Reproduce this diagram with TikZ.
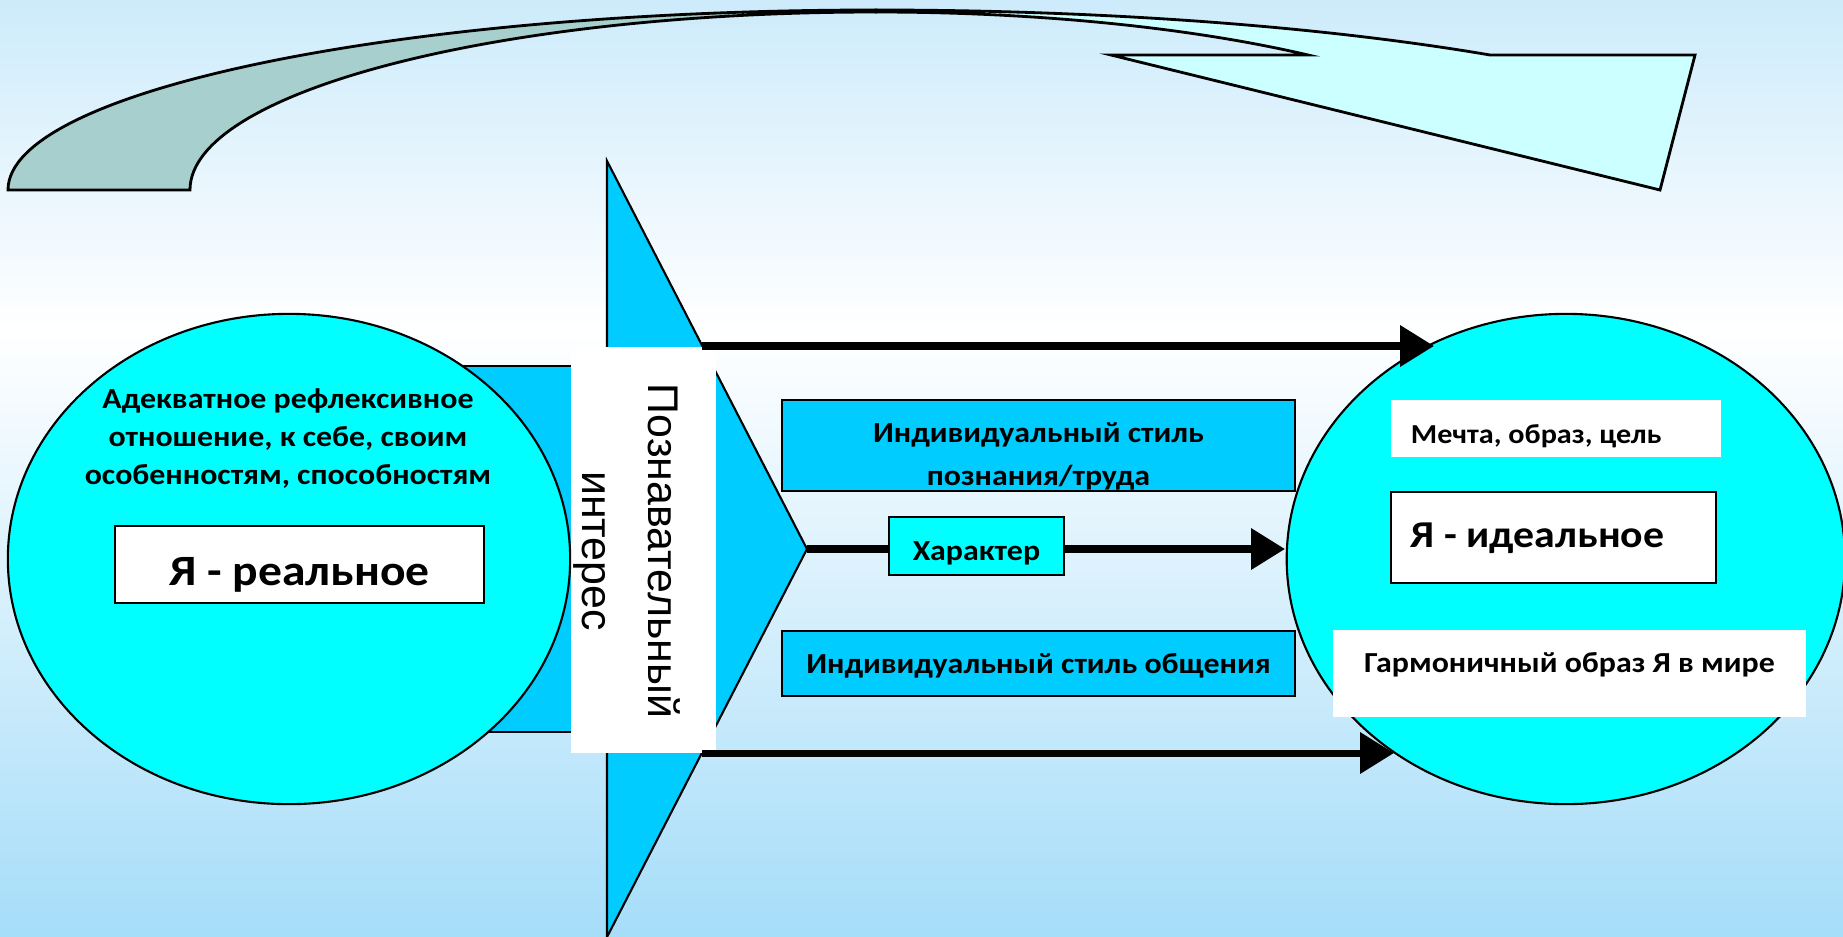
\documentclass[tikz,border=0pt]{standalone}
\usepackage{fontspec}
\setmainfont{Carlito}
\newfontfamily\calfont[FakeStretch=1.1]{Carlito}
\newfontfamily\arialfont{Liberation Sans}
\usetikzlibrary{positioning,shapes.geometric,arrows.meta}
\definecolor{bgtop}{HTML}{CDEBFB}
\definecolor{bgbottom}{HTML}{A6DDF9}
\definecolor{skyblue}{HTML}{00CCFF}
\definecolor{aqua}{HTML}{00FFFF}
\definecolor{greyteal}{HTML}{A6CFCE}
\definecolor{paleaqua}{HTML}{CCFFFF}

\begin{document}
\begin{tikzpicture}[x=0.01cm,y=-0.01cm,
		selfnode/.style={ellipse,draw=black,fill=aqua,line width=0.6pt,inner sep=0pt},
		bluebox/.style={rectangle,draw=black,fill=skyblue,line width=0.6pt,inner sep=0pt},
		whitebox/.style={rectangle,fill=white,inner sep=0pt},
		boldtext/.style={font=\calfont\bfseries\fontsize{8.25}{10.8}\selectfont},
		bigtext/.style={font=\calfont\bfseries\fontsize{12.3}{14}\selectfont},
		thickarrow/.style={line width=2pt,-{Triangle[length=3.4mm,width=4mm]}}]
		\useasboundingbox (0,0) rectangle (1843,936);
		\shade[top color=bgtop,bottom color=white] (0,0) rectangle (1843,330);
		\shade[top color=white,bottom color=bgbottom] (0,330) rectangle (1843,936);

		\filldraw[fill=greyteal,line width=0.8pt] (8,190) .. controls (8,91) and (397,10) .. (876,10) -- (876,12) .. controls (497,12) and (190,92) .. (190,190) -- cycle;
		\filldraw[fill=paleaqua,line width=0.8pt] (876,10) .. controls (1102,10) and (1320,26) .. (1490,55) -- (1695,55) -- (1660,190) -- (1111,55) -- (1308,55) .. controls (1188,27) and (1034,12) .. (876,12) -- cycle;

		\coordinate (tip) at (807,549);
		\filldraw[fill=skyblue,line width=0.6pt] (607,161) -- (tip) -- (607,937) -- cycle;
		\coordinate (a1) at (702,346);
		\coordinate (b1) at (1434,346);
		\coordinate (a3) at (702,753);
		\coordinate (b3) at (1394,753);
		\coordinate (b2) at (1285,549);

		\node[bluebox,minimum width=10.8mm,minimum height=36.6mm]											(1)		at (518,549) {};
		\node[whitebox,minimum width=14.5mm,minimum height=40.6mm]											(2)		at (643.5,550) {};
		\node[rotate=-90,align=center,font=\arialfont\fontsize{12.2}{19}\selectfont]							(3)		at (627,551) {Познавательный\\интерес};
		\node[selfnode,minimum width=56.2mm,minimum height=49mm]												(4)		at (289,559) {};
		\node[boldtext,align=center]																		(5)		at (288,439) {Адекватное рефлексивное\\отношение, к себе, своим\\особенностям, способностям};
		\node[whitebox,bigtext,draw=black,line width=0.6pt,minimum width=36.9mm,minimum height=7.7mm,text height=5mm,text depth=0.9mm]	(6)	at (299.5,564.5) {Я - реальное};
		\node[bluebox,font=\calfont\bfseries\fontsize{8.25}{12.3}\selectfont,align=center,minimum width=51.3mm,minimum height=9.1mm,text height=8.2mm,text depth=0.1mm,node distance=6.4mm,right=of 2,yshift=10.45mm]	(7)	{Индивидуальный стиль\\познания/труда};
		\node[bluebox,boldtext,minimum width=51.3mm,minimum height=6.5mm,text height=3mm,text depth=1mm,node distance=6.4mm,right=of 2,yshift=-11.35mm]	(8)	{Индивидуальный стиль общения};

		\draw[thickarrow] (tip) -- (b2);

		\node[bluebox,boldtext,fill=aqua,minimum width=17.5mm,minimum height=5.8mm,text height=3.4mm,text depth=0.6mm,node distance=17.1mm,right=of 2,yshift=0.4mm]	(9)	{Характер};
		\node[selfnode,minimum width=55.8mm,minimum height=49mm,node distance=71.4mm,right=of 4]				(10)	{};
		\node[whitebox,font=\calfont\bfseries\fontsize{7.8}{10}\selectfont,minimum width=33mm,minimum height=5.7mm,inner xsep=2mm,text height=3.5mm,text depth=0.6mm]	(11)	at (1556,428.5) {\makebox[29mm][l]{Мечта, образ, цель}};
		\node[whitebox,draw=black,line width=0.6pt,font=\calfont\bfseries\fontsize{10.8}{12}\selectfont,minimum width=32.5mm,minimum height=9.1mm,inner xsep=2mm,text height=3.5mm,text depth=1.6mm]	(12)	at (1553.5,537.5) {\makebox[28.5mm][l]{Я - идеальное}};
		\node[whitebox,boldtext,minimum width=47.3mm,minimum height=8.7mm,text height=2mm,text depth=2.3mm]	(13)	at (1569.5,673.5) {Гармоничный образ Я в мире};

		\draw[thickarrow] (a1) -- (b1);
		\draw[thickarrow] (a3) -- (b3);
	\end{tikzpicture}
\end{document}
